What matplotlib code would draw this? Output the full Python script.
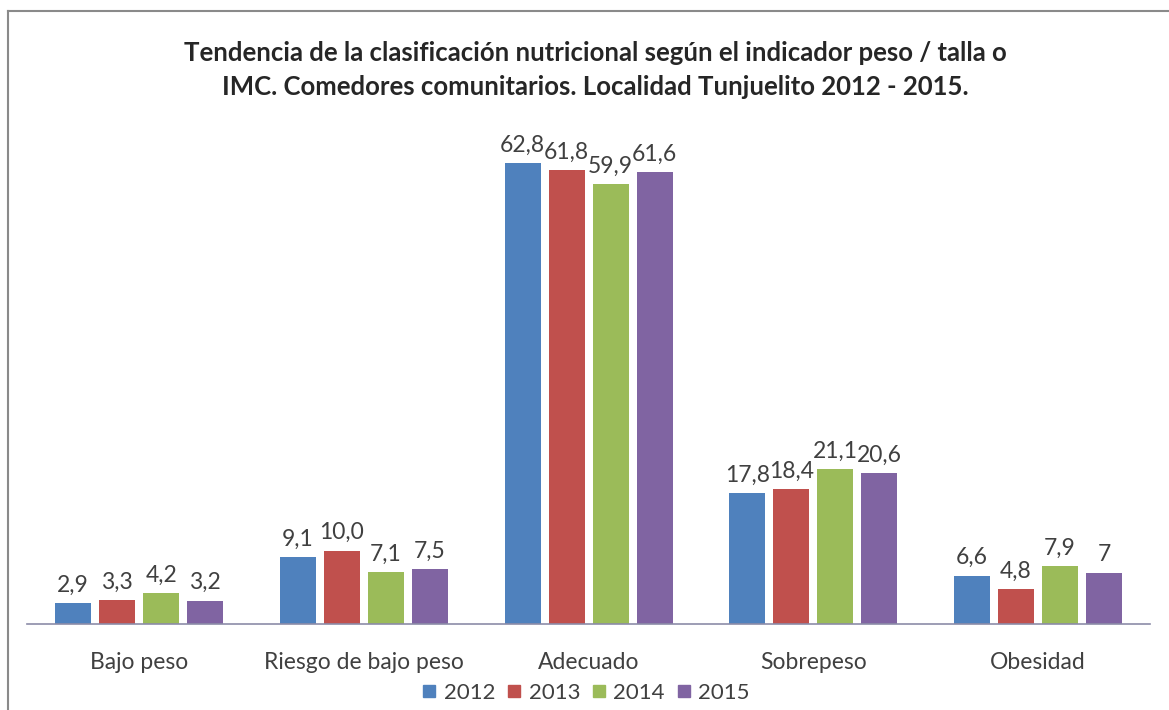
import numpy as np
import matplotlib.pyplot as plt
from matplotlib.lines import Line2D

plt.rcParams['font.family'] = ['Lato', 'DejaVu Sans']

# Data
categories = ['Bajo peso', 'Riesgo de bajo peso', 'Adecuado', 'Sobrepeso', 'Obesidad']
years = ['2012', '2013', '2014', '2015']
values = {
    '2012': [2.9, 9.1, 62.8, 17.8, 6.6],
    '2013': [3.3, 10.0, 61.8, 18.4, 4.8],
    '2014': [4.2, 7.1, 59.9, 21.1, 7.9],
    '2015': [3.2, 7.5, 61.6, 20.6, 7.0],
}
labels = {
    '2012': ['2,9', '9,1', '62,8', '17,8', '6,6'],
    '2013': ['3,3', '10,0', '61,8', '18,4', '4,8'],
    '2014': ['4,2', '7,1', '59,9', '21,1', '7,9'],
    '2015': ['3,2', '7,5', '61,6', '20,6', '7'],
}
colors = ['#4F81BD', '#C0504D', '#9BBB59', '#8064A2']

title = ('Tendencia de la clasificación nutricional según el indicador peso / talla o\n'
         'IMC. Comedores comunitarios. Localidad Tunjuelito 2012 - 2015.')

fig = plt.figure(figsize=(11.69, 7.10), dpi=100)
ax = fig.add_axes([0.023, 0.121, 0.961, 0.724])

x = np.arange(len(categories))
step = 0.196
width = 0.16
for i, yr in enumerate(years):
    pos = x + (i - 1.5) * step
    ax.bar(pos, values[yr], width=width, color=colors[i], label=yr)
    for p, v, t in zip(pos, values[yr], labels[yr]):
        ax.text(p, v + 1.0, t, ha='center', va='bottom', fontsize=16.5, color='#404040')

ax.set_xlim(-0.5, len(categories) - 0.5)
ax.set_ylim(0, 70)
ax.set_yticks([])
ax.set_xticks(x)
ax.set_xticklabels(categories, fontsize=16.5, color='#404040')
ax.tick_params(axis='x', length=0, pad=20)
for s in ['top', 'right', 'left']:
    ax.spines[s].set_visible(False)
ax.spines['bottom'].set_color('#8C8CA8')
ax.spines['bottom'].set_linewidth(1.2)

fig.text(0.509, 0.901, title, ha='center', va='center', fontsize=18.5,
         fontweight='bold', color='#262626', linespacing=1.5)

handles = [Line2D([], [], marker='s', linestyle='none', markersize=9,
                  color=c) for c in colors]
fig.legend(handles, years, loc='center', bbox_to_anchor=(0.501, 0.024), ncol=4,
           frameon=False, fontsize=16, handlelength=0.7, handletextpad=0.3,
           columnspacing=0.5, labelcolor='#404040')

# outer chart frame (left and top visible)
fig.add_artist(Line2D([8 / 1169, 8 / 1169], [0, 1 - 11 / 710], transform=fig.transFigure,
                      color='#8a8a8a', linewidth=1.5))
fig.add_artist(Line2D([8 / 1169, 1], [1 - 11 / 710, 1 - 11 / 710], transform=fig.transFigure,
                      color='#8a8a8a', linewidth=1.5))

fig.savefig('out.png', dpi=100)
